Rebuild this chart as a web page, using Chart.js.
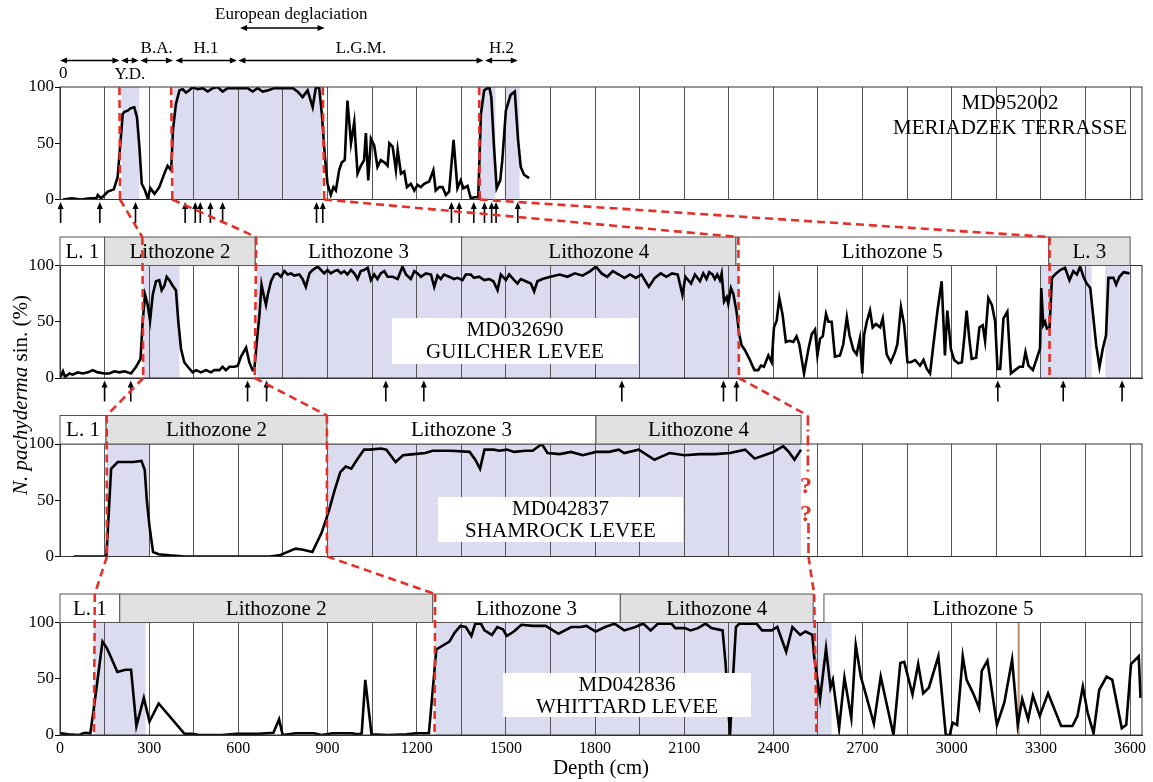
<!DOCTYPE html>
<html>
<head>
<meta charset="utf-8">
<title>N. pachyderma sin. records</title>
<script src="https://cdn.jsdelivr.net/npm/chart.js@4.4.1/dist/chart.umd.min.js"></script>
<style>
  body { margin: 0; background: #fff; }
  #wrap { position: relative; width: 1153px; height: 782px; }
  #wrap canvas { position: absolute; left: 0; top: 0; }
</style>
</head>
<body>
<div id="wrap">
  <canvas id="core1" width="1153" height="782"></canvas>
  <canvas id="core2" width="1153" height="782"></canvas>
  <canvas id="core3" width="1153" height="782"></canvas>
  <canvas id="core4" width="1153" height="782"></canvas>
</div>
<script>
// depth axis (cm)
var depthMax = 3640;
var depthLabels = [0, 300, 600, 900, 1200, 1500, 1800, 2100, 2400, 2700, 3000, 3300, 3600];

// MD952002 - Meriadzek Terrasse
var md952002Depth = [10, 40, 70, 100, 122, 127, 138, 150, 161, 181,
  194, 211, 217, 228, 237, 250, 259, 267, 275, 286,
  295, 304, 318, 334, 351, 362, 374, 380, 390, 402,
  413, 424, 435, 446, 463, 480, 497, 514, 530, 547,
  564, 587, 609, 631, 648, 665, 682, 699, 721, 743,
  766, 783, 799, 816, 833, 850, 861, 872, 881, 891,
  900, 911, 920, 928, 939, 948, 958, 967, 979, 990,
  995, 1001, 1012, 1023, 1029, 1037, 1046, 1057, 1068, 1079,
  1091, 1102, 1108, 1119, 1130, 1136, 1147, 1158, 1167, 1180,
  1192, 1203, 1214, 1225, 1242, 1256, 1264, 1276, 1287, 1298,
  1309, 1324, 1337, 1348, 1357, 1371, 1382, 1393, 1407, 1416,
  1427, 1444, 1451, 1460, 1469, 1481, 1488, 1500, 1516, 1530,
  1541, 1550, 1561, 1578];
var md952002Pct = [0, 1, 0, 1, 1, 4, 1, 4, 7, 9,
  20, 76, 78, 79, 81, 82, 73, 47, 14, 8,
  1, 10, 5, 11, 23, 30, 26, 62, 85, 97,
  98, 95, 97, 100, 98, 99, 96, 99, 100, 96,
  99, 99, 99, 99, 96, 99, 96, 97, 99, 99,
  99, 99, 96, 91, 97, 82, 100, 99, 76, 38,
  14, 4, 11, 8, 26, 33, 35, 88, 50, 69,
  47, 23, 30, 35, 59, 17, 54, 48, 29, 35,
  33, 30, 50, 47, 26, 44, 23, 25, 11, 14,
  8, 13, 11, 14, 16, 26, 8, 11, 11, 4,
  7, 53, 10, 17, 10, 12, 1, 2, 2, 76,
  97, 100, 91, 47, 10, 17, 35, 79, 93, 96,
  53, 29, 22, 19];
var md952002Dates = [2, 134, 254, 421, 455, 472, 506, 547, 863, 884, 1317, 1343, 1392, 1428, 1452, 1467, 1540];
var md952002Shade = [[207, 267], [382, 882], [1412, 1465], [1496, 1546]];

// climatic periods above MD952002
var periodNames = ['0', 'Y.D.', 'B.A.', 'H.1', 'L.G.M.', 'H.2'];
var periodFrom = [0, 205, 270, 388, 600, 1430];
var periodTo = [200, 265, 380, 595, 1425, 1540];
var periodLabelSide = ['start', 'below', 'above', 'above', 'above', 'above'];
var deglaciation = [606, 890];

// MD032690 - Guilcher levee
var md032690Depth = [2, 10, 17, 32, 43, 60, 77, 94, 110, 127,
  150, 166, 183, 200, 217, 239, 256, 271, 278, 286,
  295, 303, 312, 323, 334, 342, 351, 359, 368, 379,
  390, 398, 407, 418, 430, 446, 458, 474, 491, 508,
  519, 536, 547, 558, 570, 587, 598, 609, 626, 637,
  648, 654, 663, 671, 678, 685, 693, 699, 710, 721,
  732, 743, 755, 766, 777, 788, 805, 816, 827, 839,
  850, 867, 878, 889, 900, 911, 923, 934, 945, 956,
  967, 979, 990, 1001, 1012, 1023, 1035, 1046, 1057, 1068,
  1079, 1091, 1102, 1119, 1136, 1152, 1164, 1180, 1192, 1203,
  1214, 1231, 1248, 1259, 1270, 1281, 1292, 1309, 1326, 1337,
  1354, 1365, 1382, 1393, 1410, 1427, 1444, 1458, 1472, 1483,
  1500, 1511, 1528, 1539, 1550, 1567, 1584, 1595, 1606, 1623,
  1650, 1681, 1707, 1732, 1758, 1784, 1803, 1822, 1841, 1860,
  1880, 1899, 1918, 1937, 1956, 1981, 2001, 2021, 2040, 2059,
  2078, 2094, 2104, 2123, 2136, 2153, 2164, 2175, 2184, 2195,
  2203, 2211, 2220, 2226, 2234, 2243, 2248, 2257, 2265, 2276,
  2285, 2293, 2304, 2321, 2336, 2349, 2358, 2368, 2383, 2394,
  2402, 2411, 2420, 2431, 2442, 2454, 2467, 2478, 2487, 2503,
  2518, 2529, 2540, 2548, 2557, 2566, 2577, 2585, 2596, 2607,
  2624, 2635, 2647, 2656, 2669, 2680, 2691, 2699, 2705, 2714,
  2725, 2734, 2745, 2759, 2768, 2781, 2795, 2809, 2817, 2829,
  2840, 2851, 2862, 2877, 2893, 2905, 2916, 2927, 2938, 2952,
  2966, 2977, 2985, 2997, 3008, 3022, 3034, 3043, 3050, 3059,
  3067, 3082, 3093, 3104, 3112, 3123, 3135, 3146, 3154, 3163,
  3174, 3187, 3199, 3213, 3228, 3239, 3248, 3258, 3273, 3288,
  3297, 3301, 3308, 3314, 3320, 3329, 3337, 3351, 3365, 3381,
  3396, 3409, 3421, 3432, 3443, 3454, 3466, 3475, 3486, 3497,
  3508, 3519, 3527, 3544, 3553, 3564, 3578, 3598];
var md032690Pct = [1, 6, 1, 4, 3, 5, 4, 5, 7, 5,
  4, 4, 6, 5, 6, 4, 10, 17, 50, 74,
  65, 51, 74, 86, 87, 78, 82, 90, 87, 82,
  78, 50, 26, 14, 10, 5, 7, 5, 7, 5,
  7, 7, 10, 7, 10, 10, 11, 19, 27, 14,
  7, 8, 35, 56, 83, 74, 65, 74, 86, 92,
  93, 90, 95, 92, 93, 91, 92, 88, 81, 93,
  96, 99, 96, 93, 96, 93, 95, 96, 93, 95,
  92, 96, 93, 88, 95, 96, 98, 87, 92, 88,
  93, 95, 90, 90, 88, 99, 92, 88, 95, 93,
  90, 93, 92, 81, 91, 88, 92, 90, 88, 89,
  87, 92, 92, 89, 90, 87, 88, 86, 78, 92,
  87, 92, 87, 84, 88, 86, 84, 77, 86, 88,
  90, 92, 90, 93, 91, 95, 99, 93, 90, 95,
  92, 89, 92, 89, 92, 81, 89, 93, 90, 93,
  92, 74, 90, 84, 92, 86, 93, 88, 94, 92,
  88, 92, 87, 93, 68, 72, 66, 80, 75, 59,
  39, 29, 25, 16, 7, 7, 11, 10, 20, 14,
  45, 51, 71, 56, 32, 33, 32, 37, 30, 4,
  26, 39, 43, 20, 35, 37, 57, 50, 50, 19,
  20, 30, 54, 38, 25, 21, 35, 4, 38, 50,
  60, 45, 48, 45, 53, 21, 14, 23, 30, 63,
  47, 14, 14, 16, 11, 16, 8, 4, 29, 60,
  86, 20, 60, 26, 16, 13, 14, 38, 60, 35,
  17, 18, 45, 47, 33, 71, 65, 50, 8, 8,
  53, 59, 4, 7, 10, 10, 23, 11, 7, 19,
  26, 80, 47, 50, 44, 45, 89, 93, 96, 98,
  87, 95, 92, 99, 90, 84, 80, 57, 29, 10,
  26, 38, 89, 89, 83, 90, 94, 93];
var md032690Dates = [150, 238, 631, 695, 1096, 1224, 1890, 2232, 2276, 3155, 3375, 3573];
var md032690Shade = [[279, 402], [662, 2285], [3297, 3471], [3516, 3598]];
var md032690ZoneFrom = [0, 150, 657, 1351, 2274, 3326];
var md032690ZoneTo = [150, 657, 1351, 2274, 3326, 3600];
var md032690ZoneNames = ['L. 1', 'Lithozone 2', 'Lithozone 3', 'Lithozone 4', 'Lithozone 5', 'L. 3'];

// MD042837 - Shamrock levee
var md042837Depth = [46, 152, 156, 172, 194, 215, 246, 274, 285, 292,
  301, 313, 332, 369, 419, 544, 668, 706, 737, 756,
  793, 818, 849, 880, 905, 924, 943, 961, 980, 999,
  1023, 1042, 1080, 1098, 1129, 1154, 1191, 1229, 1254, 1316,
  1378, 1397, 1413, 1428, 1459, 1478, 1503, 1528, 1565, 1590,
  1621, 1640, 1681, 1719, 1759, 1803, 1847, 1880, 1898, 1947,
  2000, 2025, 2051, 2101, 2152, 2203, 2254, 2305, 2337, 2369,
  2401, 2433, 2452, 2471, 2493];
var md042837Pct = [0, 0, 0, 78, 84, 84, 84, 85, 77, 50,
  27, 4, 2, 1, 0, 0, 0, 0, 1, 3,
  7, 6, 4, 21, 41, 59, 75, 80, 78, 86,
  95, 95, 96, 95, 84, 90, 91, 92, 94, 94,
  93, 86, 78, 95, 95, 94, 95, 93, 94, 94,
  100, 92, 91, 93, 90, 93, 93, 95, 92, 95,
  86, 89, 92, 90, 91, 91, 92, 95, 87, 90,
  93, 98, 93, 86, 95];
var md042837Shade = [[158, 301], [898, 2493]];
var md042837ZoneFrom = [0, 155, 898, 1803];
var md042837ZoneTo = [155, 898, 1803, 2493];
var md042837ZoneNames = ['L. 1', 'Lithozone 2', 'Lithozone 3', 'Lithozone 4'];

// MD042836 - Whittard levee
var md042836Depth = [2, 27, 64, 83, 102, 114, 143, 158, 170, 193,
  220, 239, 257, 282, 301, 332, 419, 444, 469, 544,
  594, 668, 693, 718, 737, 749, 793, 855, 880, 917,
  980, 1005, 1015, 1027, 1048, 1104, 1166, 1198, 1241, 1266,
  1291, 1310, 1328, 1347, 1365, 1384, 1397, 1416, 1428, 1453,
  1471, 1490, 1503, 1527, 1552, 1590, 1634, 1677, 1720, 1752,
  1771, 1802, 1834, 1866, 1898, 1936, 1962, 1987, 2012, 2057,
  2070, 2102, 2121, 2146, 2172, 2191, 2229, 2239, 2254, 2265,
  2274, 2286, 2343, 2362, 2394, 2413, 2443, 2464, 2490, 2508,
  2531, 2537, 2557, 2577, 2592, 2600, 2621, 2639, 2662, 2677,
  2694, 2710, 2738, 2761, 2779, 2804, 2827, 2840, 2868, 2887,
  2904, 2923, 2955, 2980, 2993, 3003, 3018, 3037, 3050, 3072,
  3092, 3101, 3120, 3152, 3177, 3203, 3222, 3237, 3257, 3273,
  3296, 3324, 3368, 3406, 3423, 3441, 3457, 3477, 3496, 3521,
  3540, 3572, 3587, 3603, 3629, 3635];
var md042836Pct = [1.5, 0.6, 0, 2, 1.5, 24, 83, 77, 70, 56,
  58, 58, 8, 33, 12, 28, 1, 1, 0, 0,
  1, 1, 1.5, 2, 14, 0, 1.5, 1.5, 0, 1.5,
  1.5, 0.6, 1.5, 49, 0.6, 0, 0.6, 1.5, 1.5, 76,
  80, 83, 91, 97, 96, 88, 99, 99, 93, 89,
  96, 94, 88, 92, 98, 97, 97, 90, 96, 96,
  97, 92, 96, 99, 93, 96, 99, 93, 99, 99,
  95, 95, 93, 95, 99, 95, 93, 64, 0, 55,
  96, 99, 99, 93, 93, 96, 74, 96, 89, 92,
  89, 70, 32, 77, 42, 49, 6, 51, 15, 80,
  52, 37, 10, 52, 30, 0, 64, 65, 36, 63,
  37, 42, 70, 0, 0, 11, 9, 70, 49, 37,
  24, 57, 66, 9, 29, 67, 9, 32, 14, 35,
  17, 37, 8, 8, 17, 43, 20, 1.5, 40, 52,
  49, 6, 9, 63, 70, 33];
var md042836Shade = [[114, 288], [1260, 2596]];
var md042836ZoneFrom = [0, 201, 1254, 1885, 2570];
var md042836ZoneTo = [201, 1254, 1885, 2534, 3640];
var md042836ZoneNames = ['L. 1', 'Lithozone 2', 'Lithozone 3', 'Lithozone 4', 'Lithozone 5'];
var md042836Marker = 3225;

// correlation lines: [depth at top, depth at bottom] for each core panel
var tieA = [[200, 202], [277, 280], [157, 158], [117, 114]];
var tieB = [[374, 378], [660, 655], [898, 898], [1262, 1260]];
var tieC = [[884, 889], [2282, 2284], [2516, 2518], [2537, 2545]];
var tieD = [[1410, 1412], [3329, 3329]];

// ---- look ----
var serif = '"Liberation Serif", "Times New Roman", serif';
var panelTop = [87, 265.5, 444, 622.5];
var panelH = 112.5;
var headH = 28.5;
var red = '#e52f29';
var lavender = '#dcdcf0';
var headGrey = '#e1e1e1';

Chart.defaults.font.family = serif;
Chart.defaults.color = '#000';

var cores = [
  { canvas: 'core1', depth: md952002Depth, pct: md952002Pct, shade: md952002Shade, dates: md952002Dates,
    name: ['MD952002', 'MERIADZEK TERRASSE'], nameAt: [1010, 103], box: null },
  { canvas: 'core2', depth: md032690Depth, pct: md032690Pct, shade: md032690Shade, dates: md032690Dates,
    zones: [md032690ZoneFrom, md032690ZoneTo, md032690ZoneNames],
    name: ['MD032690', 'GUILCHER LEVEE'], box: [392, 318, 246, 46] },
  { canvas: 'core3', depth: md042837Depth, pct: md042837Pct, shade: md042837Shade,
    zones: [md042837ZoneFrom, md042837ZoneTo, md042837ZoneNames],
    name: ['MD042837', 'SHAMROCK LEVEE'], box: [438, 497, 245, 45] },
  { canvas: 'core4', depth: md042836Depth, pct: md042836Pct, shade: md042836Shade,
    zones: [md042836ZoneFrom, md042836ZoneTo, md042836ZoneNames], marker: md042836Marker,
    name: ['MD042836', 'WHITTARD LEVEE'], box: [503, 673, 248, 44] }
];

function upArrow(ctx, x, yTip, len) {
  ctx.beginPath();
  ctx.moveTo(x, yTip + 5);
  ctx.lineTo(x, yTip + len);
  ctx.stroke();
  ctx.beginPath();
  ctx.moveTo(x, yTip);
  ctx.lineTo(x - 3, yTip + 7);
  ctx.lineTo(x + 3, yTip + 7);
  ctx.closePath();
  ctx.fill();
}

function doubleArrow(ctx, x0, x1, y) {
  ctx.beginPath();
  ctx.moveTo(x0 + 4, y);
  ctx.lineTo(x1 - 4, y);
  ctx.stroke();
  ctx.beginPath();
  ctx.moveTo(x0, y); ctx.lineTo(x0 + 7, y - 3); ctx.lineTo(x0 + 7, y + 3); ctx.closePath();
  ctx.moveTo(x1, y); ctx.lineTo(x1 - 7, y - 3); ctx.lineTo(x1 - 7, y + 3); ctx.closePath();
  ctx.fill();
}

function corePlugin(core) {
  return {
    id: 'panel',
    beforeDraw: function (chart) {
      var a = chart.chartArea, x = chart.scales.x, ctx = chart.ctx;
      ctx.save();
      ctx.fillStyle = lavender;
      core.shade.forEach(function (s) {
        var x0 = x.getPixelForValue(s[0]), x1 = x.getPixelForValue(s[1]);
        ctx.fillRect(x0, a.top, x1 - x0, a.bottom - a.top);
      });
      ctx.restore();
    },
    beforeDatasetsDraw: function (chart) {
      if (core.marker === undefined) return;
      var a = chart.chartArea, ctx = chart.ctx;
      var xm = chart.scales.x.getPixelForValue(core.marker);
      ctx.save();
      ctx.strokeStyle = '#b9906c';
      ctx.lineWidth = 2;
      ctx.beginPath();
      ctx.moveTo(xm, a.top);
      ctx.lineTo(xm, a.bottom);
      ctx.stroke();
      ctx.restore();
    },
    afterDatasetsDraw: function (chart) {
      var a = chart.chartArea, x = chart.scales.x, ctx = chart.ctx;
      ctx.save();
      // frame
      ctx.strokeStyle = '#333';
      ctx.lineWidth = 1;
      ctx.strokeRect(a.left, a.top, a.right - a.left, a.bottom - a.top);

      ctx.textAlign = 'center';
      ctx.textBaseline = 'middle';
      ctx.fillStyle = '#000';

      // lithozone header
      if (core.zones) {
        var from = core.zones[0], to = core.zones[1], names = core.zones[2];
        ctx.font = '21px ' + serif;
        for (var i = 0; i < names.length; i++) {
          var x0 = x.getPixelForValue(from[i]), x1 = x.getPixelForValue(to[i]);
          ctx.fillStyle = i % 2 ? headGrey : '#fff';
          ctx.fillRect(x0, a.top - headH, x1 - x0, headH);
          ctx.strokeStyle = '#555';
          ctx.strokeRect(x0, a.top - headH, x1 - x0, headH);
          ctx.fillStyle = '#000';
          ctx.fillText(names[i], (x0 + x1) / 2, a.top - headH / 2 + 1);
        }
      }

      // core name
      ctx.font = '21px ' + serif;
      if (core.box) {
        var b = core.box;
        ctx.fillStyle = '#fff';
        ctx.fillRect(b[0], b[1], b[2], b[3]);
        ctx.fillStyle = '#000';
        ctx.fillText(core.name[0], b[0] + b[2] / 2, b[1] + 12);
        ctx.fillText(core.name[1], b[0] + b[2] / 2, b[1] + 34);
      } else {
        ctx.fillText(core.name[0], core.nameAt[0], core.nameAt[1]);
        ctx.fillText(core.name[1], core.nameAt[0], core.nameAt[1] + 25);
      }

      // dated levels
      if (core.dates) {
        ctx.strokeStyle = '#000';
        ctx.fillStyle = '#000';
        ctx.lineWidth = 1.6;
        core.dates.forEach(function (d) {
          upArrow(ctx, x.getPixelForValue(d), a.bottom + 2.5, 21);
        });
      }

      // climatic periods (top core only)
      if (core.canvas === 'core1') {
        ctx.lineWidth = 1.3;
        ctx.font = '17px ' + serif;
        var yA = 60.5;
        for (var p = 0; p < periodNames.length; p++) {
          var p0 = x.getPixelForValue(periodFrom[p]), p1 = x.getPixelForValue(periodTo[p]);
          doubleArrow(ctx, p0, p1, yA);
          if (periodLabelSide[p] === 'start') {
            ctx.textAlign = 'left';
            ctx.fillText(periodNames[p], p0 - 1, yA + 13);
            ctx.textAlign = 'center';
          } else if (periodLabelSide[p] === 'below') {
            ctx.fillText(periodNames[p], (p0 + p1) / 2, yA + 14);
          } else {
            ctx.fillText(periodNames[p], (p0 + p1) / 2, yA - 12);
          }
        }
        var g0 = x.getPixelForValue(deglaciation[0]), g1 = x.getPixelForValue(deglaciation[1]);
        doubleArrow(ctx, g0, g1, 28);
        ctx.fillText('European deglaciation', (g0 + g1) / 2 + 9, 15);
      }
      ctx.restore();
    }
  };
}

var charts = [];

var overlay = {
  id: 'overlay',
  afterDraw: function (chart) {
    var all = charts.concat([chart]);
    var ctx = chart.ctx;
    function px(k, d) { return all[k].scales.x.getPixelForValue(d); }
    function yTop(k) { return all[k].chartArea.top - (k > 0 ? headH : 0); }
    function yBot(k) { return all[k].chartArea.bottom; }
    function seg(x0, y0, x1, y1, dash) {
      ctx.setLineDash(dash);
      ctx.beginPath();
      ctx.moveTo(x0, y0);
      ctx.lineTo(x1, y1);
      ctx.stroke();
    }
    ctx.save();
    ctx.strokeStyle = red;
    ctx.lineWidth = 2.6;
    var dashed = [8, 5], dashDot = [10, 4, 2, 4];
    [tieA, tieB, tieC, tieD].forEach(function (tie, li) {
      for (var k = 0; k < tie.length; k++) {
        var xt = px(k, tie[k][0]), xb = px(k, tie[k][1]);
        if (li === 2 && k === 2) {
          // uncertain correlation through MD042837
          var t = all[k].chartArea.top;
          seg(xt, yTop(k), xt, t + 29, dashDot);
          seg(xb, t + 79, xb, yBot(k), dashDot);
          ctx.setLineDash([]);
          ctx.fillStyle = red;
          ctx.font = 'bold 24px ' + serif;
          ctx.textAlign = 'center';
          ctx.textBaseline = 'middle';
          ctx.fillText('?', xt - 2, t + 43);
          ctx.fillText('?', xt - 2, t + 71);
        } else {
          seg(xt, yTop(k), xb, yBot(k), dashed);
        }
        if (k + 1 < tie.length) {
          seg(xb, yBot(k), px(k + 1, tie[k + 1][0]), yTop(k + 1), dashed);
        }
      }
    });
    ctx.restore();

    // y axis title, spanning the middle cores
    ctx.save();
    ctx.translate(21, 395);
    ctx.rotate(-Math.PI / 2);
    ctx.textBaseline = 'middle';
    ctx.textAlign = 'left';
    ctx.fillStyle = '#000';
    var t1 = 'N. pachyderma', t2 = ' sin. (%)';
    ctx.font = 'italic 21px ' + serif;
    var w1 = ctx.measureText(t1).width;
    ctx.font = '21px ' + serif;
    var w2 = ctx.measureText(t2).width;
    var s = -(w1 + w2) / 2;
    ctx.font = 'italic 21px ' + serif;
    ctx.fillText(t1, s, 0);
    ctx.font = '21px ' + serif;
    ctx.fillText(t2, s + w1, 0);
    ctx.restore();
  }
};

cores.forEach(function (core, k) {
  var last = k === cores.length - 1;
  var axisH = last ? 46.5 : 0;
  var points = core.depth.map(function (d, i) { return { x: d, y: core.pct[i] }; });
  var plugins = [corePlugin(core)];
  if (last) plugins.push(overlay);

  var c = new Chart(document.getElementById(core.canvas), {
    type: 'line',
    data: {
      datasets: [{
        data: points,
        borderColor: '#000',
        borderWidth: 2.6,
        pointRadius: 0,
        tension: 0,
        fill: false
      }]
    },
    options: {
      responsive: false,
      animation: false,
      events: [],
      layout: { padding: { top: panelTop[k], bottom: 782 - panelTop[k] - panelH - axisH, left: 0, right: 11 } },
      plugins: { legend: { display: false }, tooltip: { enabled: false } },
      scales: {
        x: {
          type: 'linear',
          min: 0,
          max: depthMax,
          ticks: {
            display: last,
            stepSize: 150,
            includeBounds: false,
            autoSkip: false,
            maxRotation: 0,
            padding: 4,
            font: { size: 16 },
            callback: function (v) { return depthLabels.indexOf(v) >= 0 ? String(v) : ''; }
          },
          grid: { color: '#555', drawTicks: false },
          border: { color: '#333' },
          title: { display: last, text: 'Depth (cm)', font: { size: 21 }, padding: { top: 0, bottom: 0 } },
          afterFit: function (s) { s.height = axisH; s.paddingLeft = 0; s.paddingRight = 0; }
        },
        y: {
          min: 0,
          max: 100,
          ticks: { stepSize: 50, padding: 1, font: { size: 17 } },
          grid: { drawOnChartArea: false, tickLength: 5, color: '#000' },
          border: { color: '#333' },
          afterFit: function (s) { s.width = 60; }
        }
      }
    },
    plugins: plugins
  });
  if (!last) charts.push(c);
});
</script>
</body>
</html>
